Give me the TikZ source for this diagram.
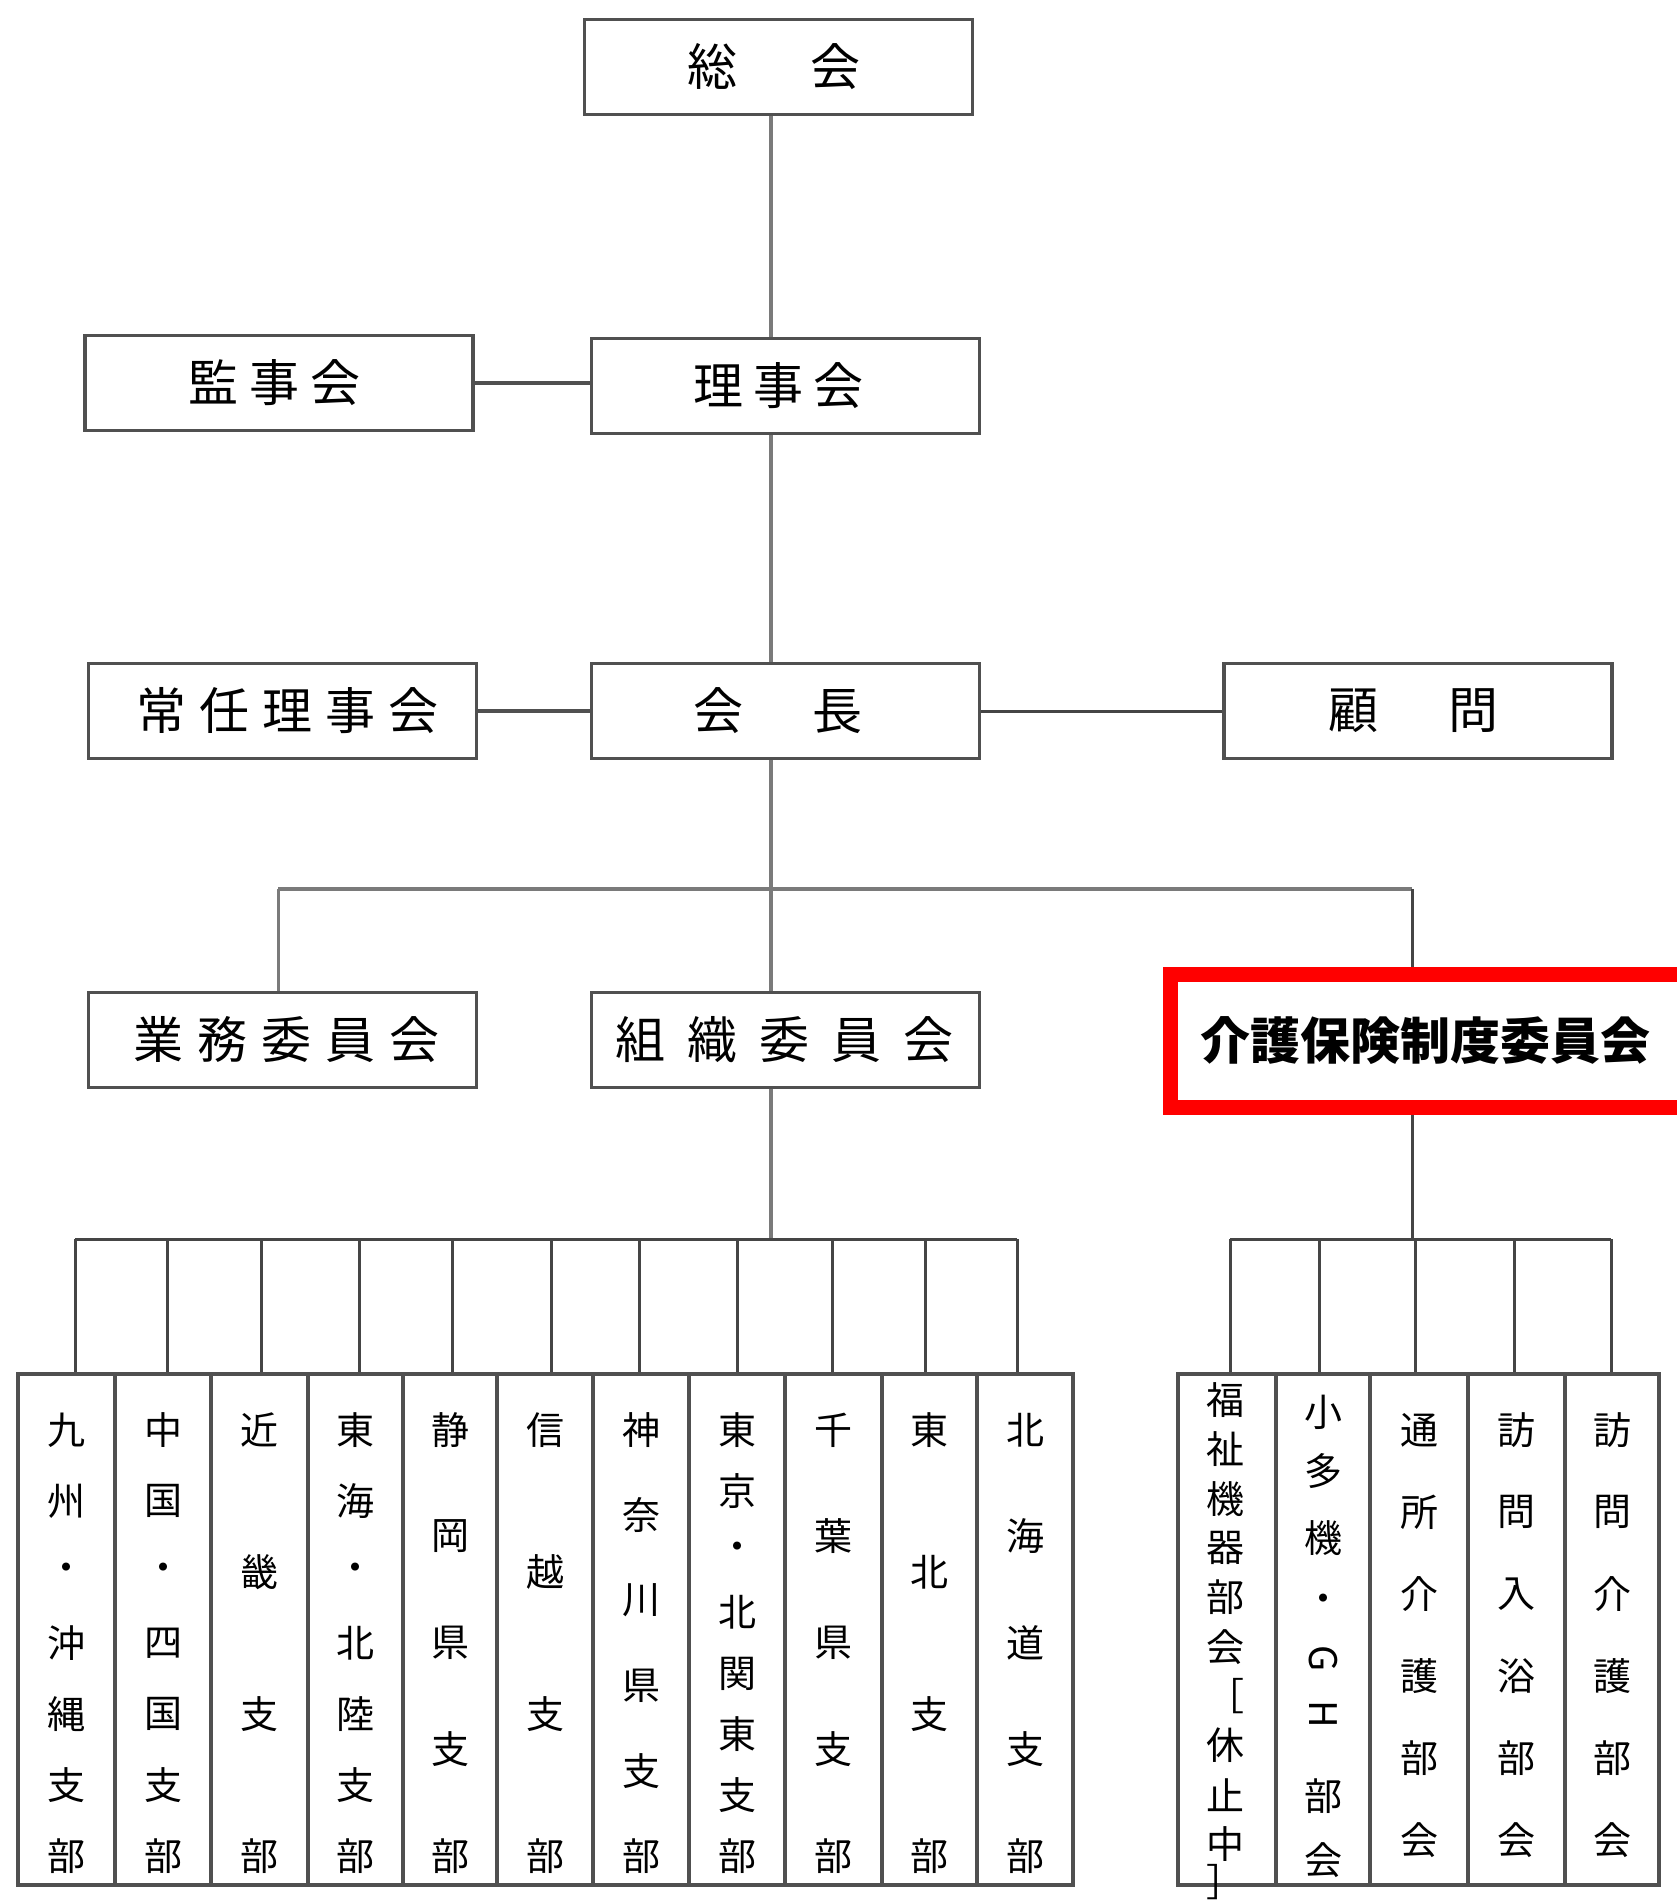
\documentclass[tikz,border=0pt]{standalone}
\usepackage{fontspec}
\newfontfamily\jp{Noto Sans CJK JP}
\usetikzlibrary{calc}
\definecolor{boxc}{HTML}{505050}
\definecolor{linec}{HTML}{7A7A7A}
\definecolor{darkl}{HTML}{454545}
\definecolor{redc}{HTML}{FF0000}
\newcommand\vtext[6]{%
  \foreach \ch [count=\i] in {#6} {%
    \pgfmathsetmacro\yy{#3+(\i-1)*(#4-#3)/(#5-1)}%
    \node[vch] (#1-\i) at (#2,\yy) {\ch};%
  }%
}
\begin{document}
\begin{tikzpicture}[x=1pt,y=-1pt,
  box/.style={draw=boxc,line width=3.5pt,fill=white,inner sep=0pt,
    minimum width=388pt,minimum height=95pt,font=\jp\fontsize{50}{50}\selectfont},
  colbox/.style={draw=boxc,line width=3.5pt,inner sep=0pt,minimum height=511pt},
  vch/.style={inner sep=0pt,font=\jp\fontsize{38}{38}\selectfont},
  conn/.style={draw=linec,line width=4pt},
  connd/.style={draw=darkl,line width=3pt}]
\useasboundingbox (0,0) rectangle (1676,1902);
\fill[white] (0,0) rectangle (1676,1902);

% main boxes
\node[box] (soukai) at (778.5,67) {総\kern73pt 会\kern10pt};
\node[box] (kanji) at (279,383) {監\kern11pt 事\kern11pt 会\kern10pt};
\node[box] (riji) at (785.5,386) {理\kern10pt 事\kern10pt 会\kern15pt};
\node[box] (jonin) at (282.5,711) {\kern10pt 常\kern13pt 任\kern13pt 理\kern13pt 事\kern13pt 会};
\node[box] (kaicho) at (785.5,711) {会\kern69pt 長\kern16pt};
\node[box] (komon) at (1418,711) {顧\kern70pt 問\kern9pt};
\node[box] (gyomu) at (282.5,1040) {\kern8pt 業\kern14pt 務\kern14pt 委\kern14pt 員\kern14pt 会};
\node[box] (soshiki) at (785.5,1040) {組\kern22pt 織\kern22pt 委\kern22pt 員\kern22pt 会\kern3pt};
\node[draw=redc,line width=15pt,fill=white,inner xsep=30pt,inner ysep=0pt,
  text width=477pt,align=left,minimum height=133pt,anchor=west,
  font=\jp\bfseries\fontsize{50}{50}\selectfont] (kaigo) at (1163,1041) {介護保険制度委員会};

% branch columns
\foreach \a/\b [count=\i] in {18/115,115/211,211/308,308/403,403/497,497/593,593/689,689/785,785/882,882/977,977/1073}
  {\node[colbox,minimum width={\b-\a}] (L\i) at ({(\a+\b)/2},1629.5) {};}
\foreach \a/\b [count=\i] in {1178/1276,1276/1370,1370/1468,1468/1565,1565/1659}
  {\node[colbox,minimum width={\b-\a}] (R\i) at ({(\a+\b)/2},1629.5) {};}

% coordinates
\coordinate (trunk) at (771,0);
\coordinate (bus1) at (771,889);
\coordinate (bus2) at (771,1239);
\coordinate (kx) at (1412,0);
\coordinate (bus3) at (1412,1239);

% connectors
\draw[conn] (trunk |- soukai.south) -- (trunk |- riji.north);
\draw[conn] (trunk |- riji.south) -- (trunk |- kaicho.north);
\draw[conn,draw=boxc] (kanji.east) -- (kanji.east -| riji.west);
\draw[conn,draw=boxc] (jonin.east) -- (jonin.east -| kaicho.west);
\draw[connd] (kaicho.east) -- (kaicho.east -| komon.west);
\draw[conn] (trunk |- kaicho.south) -- (trunk |- soshiki.north);
\draw[conn] ([xshift=-4.5pt]gyomu.north |- bus1) -- (kx |- bus1);
\draw[conn,line width=3pt] ([xshift=-4.5pt]gyomu.north |- bus1) -- ([xshift=-4.5pt]gyomu.north);
\draw[connd] (kx |- bus1) -- (kx |- kaigo.north);
\draw[conn] (trunk |- soshiki.south) -- (bus2);
\draw[connd] ([xshift=8.5pt]L1.north |- bus2) -- ([xshift=-8pt]L11.north |- bus2);
\foreach \i/\d in {1/8.5,2/4,3/1.5,4/3.5,5/2,6/6,7/-2,8/0,9/-1.5,10/-4.5,11/-8}
  {\draw[connd] ([xshift=\d pt]L\i.north |- bus2) -- ([xshift=\d pt]L\i.north);}
\draw[connd] (kx |- kaigo.south) -- (bus3);
\draw[connd] ([xshift=3pt]R1.north |- bus3) -- ([xshift=-1pt]R5.north |- bus3);
\foreach \i/\d in {1/3,2/-4,3/-4,4/-2.5,5/-1}
  {\draw[connd] ([xshift=\d pt]R\i.north |- bus3) -- ([xshift=\d pt]R\i.north);}

% vertical texts
\vtext{t1}{66.5}{1430}{1856}{7}{九,州,・,沖,縄,支,部}
\vtext{t2}{163}{1430}{1856}{7}{中,国,・,四,国,支,部}
\vtext{t3}{259.5}{1430}{1856}{4}{近,畿,支,部}
\vtext{t4}{355.5}{1430}{1856}{7}{東,海,・,北,陸,支,部}
\vtext{t5}{450}{1430}{1856}{5}{静,岡,県,支,部}
\vtext{t6}{545}{1430}{1856}{4}{信,越,支,部}
\vtext{t7}{641}{1430}{1856}{6}{神,奈,川,県,支,部}
\vtext{t8}{737}{1430}{1856}{8}{東,京,・,北,関,東,支,部}
\vtext{t9}{833.5}{1430}{1856}{5}{千,葉,県,支,部}
\vtext{t10}{929.5}{1430}{1856}{4}{東,北,支,部}
\vtext{t11}{1025}{1430}{1856}{5}{北,海,道,支,部}

\vtext{u1}{1225}{1400}{1844}{10}{福,祉,機,器,部,会,［,休,止,中}
\node[vch] (u1-11) at (1225,1882) {］};
\node[vch] (u2-1) at (1323,1412) {小};
\node[vch] (u2-2) at (1323,1471) {多};
\node[vch] (u2-3) at (1323,1538) {機};
\node[vch] (u2-4) at (1323,1603) {・};
\node[vch,rotate=-90] (u2-5) at (1323,1659) {G};
\node[vch,rotate=-90] (u2-6) at (1323,1714) {H};
\node[vch] (u2-7) at (1323,1796) {部};
\node[vch] (u2-8) at (1323,1860) {会};
\vtext{u3}{1419}{1430}{1840}{6}{通,所,介,護,部,会}
\vtext{u4}{1516.5}{1430}{1840}{6}{訪,問,入,浴,部,会}
\vtext{u5}{1612}{1430}{1840}{6}{訪,問,介,護,部,会}
\end{tikzpicture}
\end{document}
